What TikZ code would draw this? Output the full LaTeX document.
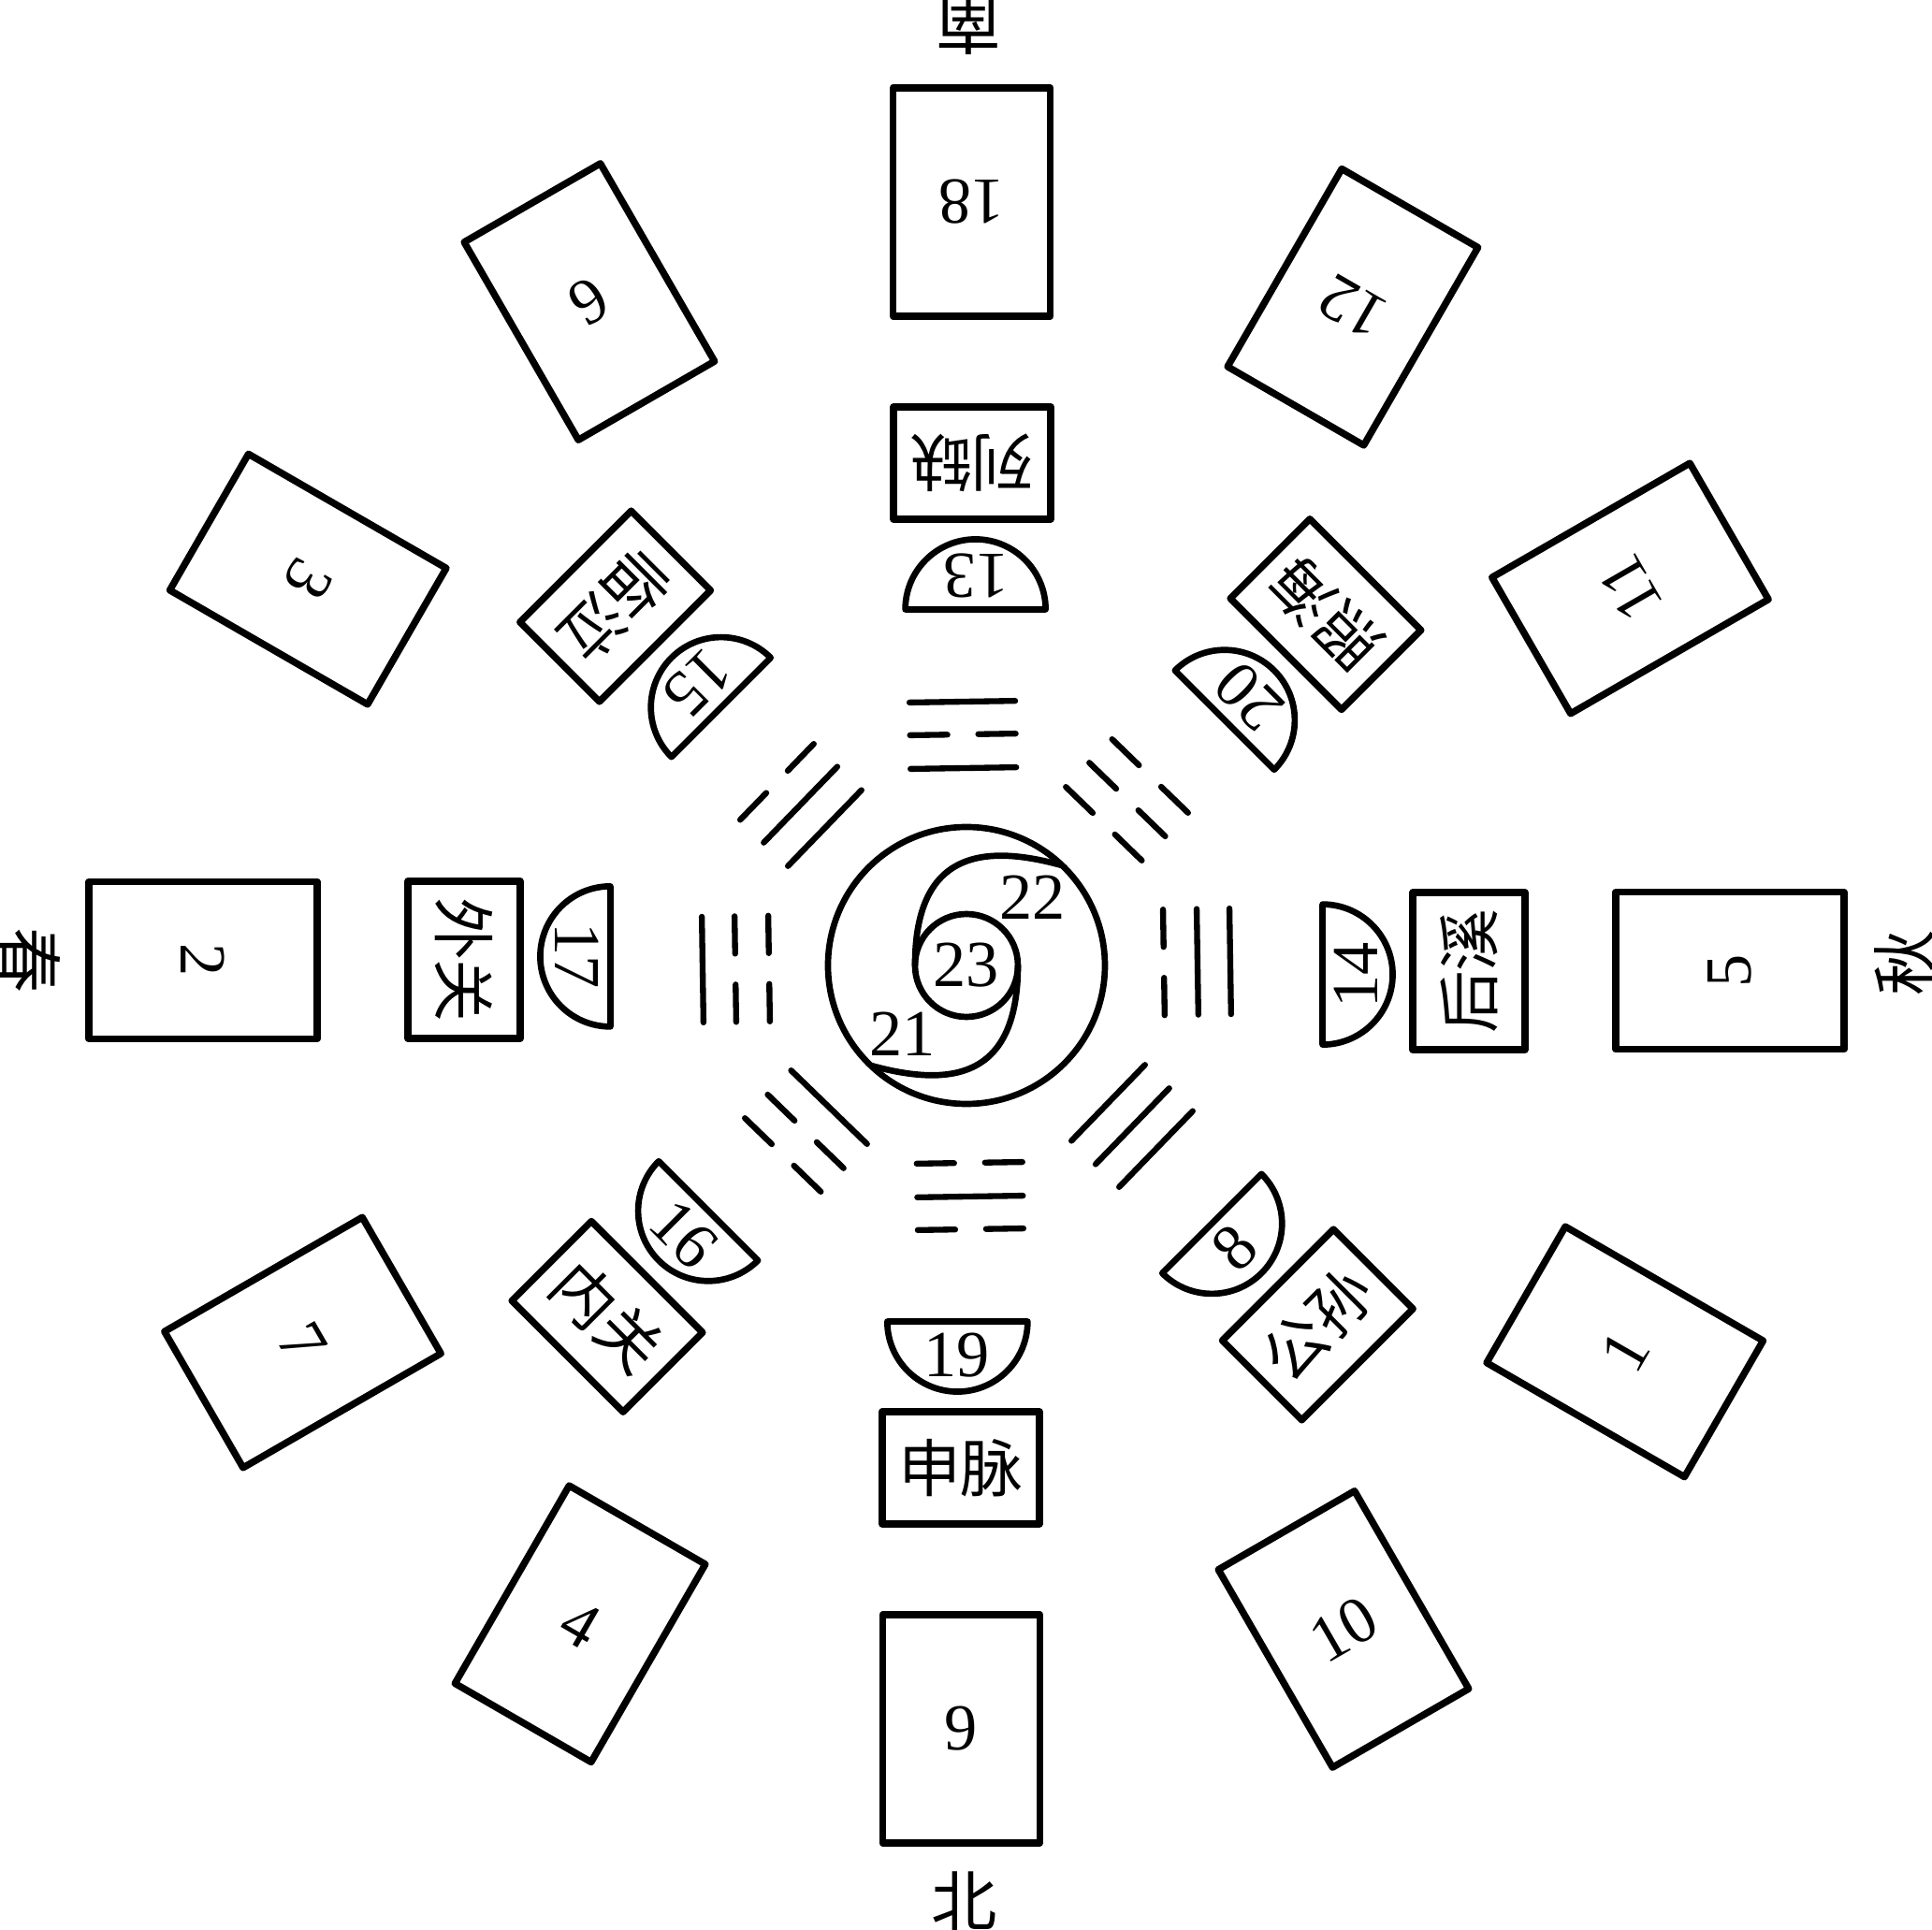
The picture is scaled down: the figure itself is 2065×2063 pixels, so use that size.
\documentclass[tikz,border=0pt]{standalone}
\usepackage{fontspec}
\setmainfont{Liberation Serif}
\newfontfamily\cjkfont{Noto Sans CJK SC}
\usetikzlibrary{calc}

% one line of a trigram: radius, 1 = whole, 0 = broken
\newcommand{\yaoline}[2]{%
  \ifnum#2=1
    \draw[yao] (#1,-56.5) -- (#1,56.5);
  \else
    \draw[yao] (#1,-56.5) -- (#1,-16.5) (#1,16.5) -- (#1,56.5);
  \fi}

\begin{document}
\begin{tikzpicture}[x=0.01cm, y=0.01cm, line join=round,
        outerbox/.style={draw, line width=2.1pt, minimum width=1.68cm, minimum height=2.44cm, inner sep=0pt, font=\fontsize{20}{20}\selectfont},
        pointbox/.style={draw, line width=2.1pt, minimum width=1.68cm, minimum height=1.2cm, inner sep=0pt, font=\cjkfont\fontsize{19}{19}\selectfont},
        ring/.style={line width=1.9pt},
        yao/.style={line width=1.8pt, line cap=round},
        numtext/.style={inner sep=0pt, font=\fontsize{20}{20}\selectfont},
        dirtext/.style={inner sep=0pt, font=\cjkfont\fontsize{20}{20}\selectfont}
    ]
    \useasboundingbox (-1033,-1031) rectangle (1032,1032);

    % Outer ring of numbered boxes
    \foreach \ang/\num in {0/5, 30/11, 60/12, 90/18, 120/6, 150/3, 180/2, 210/7, 240/4, 270/9, 300/10, 330/1}
        \node[outerbox, rotate=\ang+90] (out\num) at (\ang-0.4:816) {\num};

    % Eight points
    \foreach \ang/\name/\txt in {90/lieque/列缺, 45/zhaohai/照海, 0/houxi/后溪, -45/gongsun/公孙, -90/shenmai/申脉, -135/neiguan/内关, 180/waiguan/外关, 135/linqi/临泣}
        \node[pointbox, rotate=\ang+90] (\name) at (\ang-0.65:537) {\txt};

    % Half discs
    \foreach \ang/\num in {90/13, 45/20, 0/14, -45/8, -90/19, -135/16, 180/17, 135/15} {
        \begin{scope}[shift={(\ang-1.45:380.7)}, rotate=\ang-90]
            \draw[ring] (-75,0) arc[start angle=180, end angle=0, radius=75] -- cycle;
        \end{scope}
        \node[numtext, rotate=\ang+90] (half\num) at (\ang-1.45:416.5) {\num};
    }

    % Trigrams (inner/middle/outer line)
    \foreach \ang/\ia/\ib/\ic in {0/0/1/1, 45/0/0/0, 90/1/0/1, 135/1/1/0, 180/0/0/1, 225/1/0/0, 270/0/1/0, 315/1/1/1} {
        \begin{scope}[rotate=\ang+0.9]
            \yaoline{211}{\ia}
            \yaoline{247}{\ib}
            \yaoline{282}{\ic}
        \end{scope}
    }

    % Centre
    \draw[ring] (0,0) circle[radius=148];
    \draw[ring] (0,0) circle[radius=55];
    \draw[ring] (102,107) .. controls (15,131) and (-55,120) .. (-55,0);
    \draw[ring] (-102,-107) .. controls (-15,-131) and (55,-120) .. (55,0);
    \node[numtext] (c23) at (0,0) {23};
    \node[numtext] (c22) at (71,73) {22};
    \node[numtext] (c21) at (-68,-73) {21};

    % Directions
    \node[dirtext, rotate=180] (nan) at (2,1006) {南};
    \node[dirtext] (bei) at (-2,-1000) {北};
    \node[dirtext, rotate=-90] (chun) at (-1001,5) {春};
    \node[dirtext, rotate=90] (qiu) at (1003,3) {秋};

\end{tikzpicture}
\end{document}
